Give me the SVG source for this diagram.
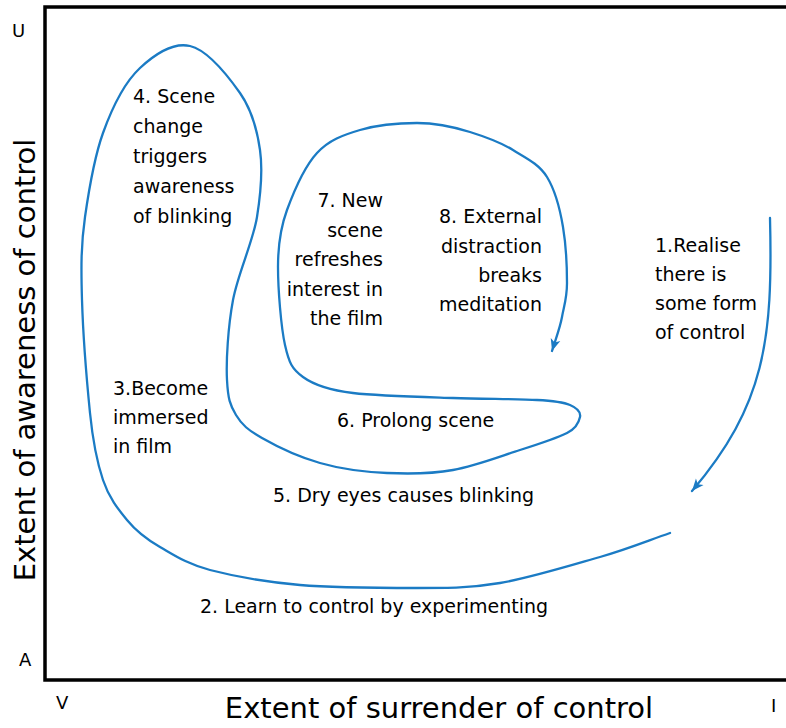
<svg xmlns="http://www.w3.org/2000/svg" width="786" height="728" viewBox="0 0 786 728">
<style>
  .t { font-family: "DejaVu Sans", "Liberation Sans", sans-serif; font-size: 19px; fill: #000; }
  .r { text-anchor: end; }
  .ax { font-family: "DejaVu Sans", "Liberation Sans", sans-serif; font-size: 29px; fill: #000; }
  .c { font-family: "DejaVu Sans", "Liberation Sans", sans-serif; font-size: 18px; fill: #000; }
  .flow { fill: none; stroke: #1b7bc4; stroke-width: 2.3; stroke-linecap: round; }
  .frame { fill: none; stroke: #000; stroke-width: 3.5; }
</style>
<defs>
  <marker id="ah" markerUnits="userSpaceOnUse" markerWidth="14" markerHeight="12" refX="12" refY="6" orient="auto">
    <path d="M0,1 L12,6 L0,11 L3,6 Z" fill="#1b7bc4"/>
  </marker>
</defs>
<rect width="786" height="728" fill="#fff"/>
<g id="frame">
  <path class="frame" d="M790,7 L45,7 L45,680 L790,680"/>
</g>
<g id="axes-labels">
  <text class="c" x="12" y="37">U</text>
  <text class="c" x="19" y="666">A</text>
  <text class="c" x="56" y="709">V</text>
  <text class="c" x="771" y="712">I</text>
  <text class="ax" x="439" y="718" text-anchor="middle">Extent of surrender of control</text>
  <text class="ax" transform="translate(35,360) rotate(-90)" text-anchor="middle">Extent of awareness of control</text>
</g>
<g id="connectors">
  <path id="arrow1" class="flow" marker-end="url(#ah)" d="M770,218 C773,340 765,405 692,491"/>
  <path id="spiral" class="flow" marker-end="url(#ah)" d="M670,533 C647,541 628,549 600,557 S530,578 500,583 S450,588 417,588 S334,588 300,585 S233,576 210,570 S174,555 160,547 S136,531 127,520 S109,498 103,480 S93,443 90,413 S83,333 82,300 S81,245 85,217 S94,158 103,133 S125,82 140,68 S173,42 190,46 S228,76 240,93 S257,129 260,150 S261,192 257,217 S238,273 233,300 S226,361 227,380 S230,405 236,415 S248,430 262,438 S299,457 320,463 S365,472 387,473 S431,474 453,470 S501,456 520,450 S557,438 567,433 S579,422 580,417 S577,408 570,405 S556,401 537,400 S484,399 453,398 S378,396 353,393 S314,385 303,377 S289,363 285,345 S278,289 278,267 S280,229 287,210 S305,166 317,153 S343,135 360,130 S399,123 417,123 S454,127 470,132 S500,142 513,150 S539,164 547,177 S560,209 563,227 S567,268 567,283 S564,306 562,317 S556,338 552,351"/>
</g>
<g id="n1">
  <text class="t" x="655" y="252">1.Realise</text>
  <text class="t" x="655" y="281">there is</text>
  <text class="t" x="655" y="310">some form</text>
  <text class="t" x="655" y="339">of control</text>
</g>
<g id="n2">
  <text class="t" x="200" y="613">2. Learn to control by experimenting</text>
</g>
<g id="n3">
  <text class="t" x="113" y="395">3.Become</text>
  <text class="t" x="113" y="424">immersed</text>
  <text class="t" x="113" y="453">in film</text>
</g>
<g id="n4">
  <text class="t" x="133" y="103">4. Scene</text>
  <text class="t" x="133" y="133">change</text>
  <text class="t" x="133" y="163">triggers</text>
  <text class="t" x="133" y="193">awareness</text>
  <text class="t" x="133" y="223">of blinking</text>
</g>
<g id="n5">
  <text class="t" x="273" y="502">5. Dry eyes causes blinking</text>
</g>
<g id="n6">
  <text class="t" x="337" y="427">6. Prolong scene</text>
</g>
<g id="n7">
  <text class="t r" x="383" y="207">7. New</text>
  <text class="t r" x="383" y="237">scene</text>
  <text class="t r" x="383" y="266">refreshes</text>
  <text class="t r" x="383" y="296">interest in</text>
  <text class="t r" x="383" y="325">the film</text>
</g>
<g id="n8">
  <text class="t r" x="542" y="223">8. External</text>
  <text class="t r" x="542" y="253">distraction</text>
  <text class="t r" x="542" y="282">breaks</text>
  <text class="t r" x="542" y="311">meditation</text>
</g>
</svg>
